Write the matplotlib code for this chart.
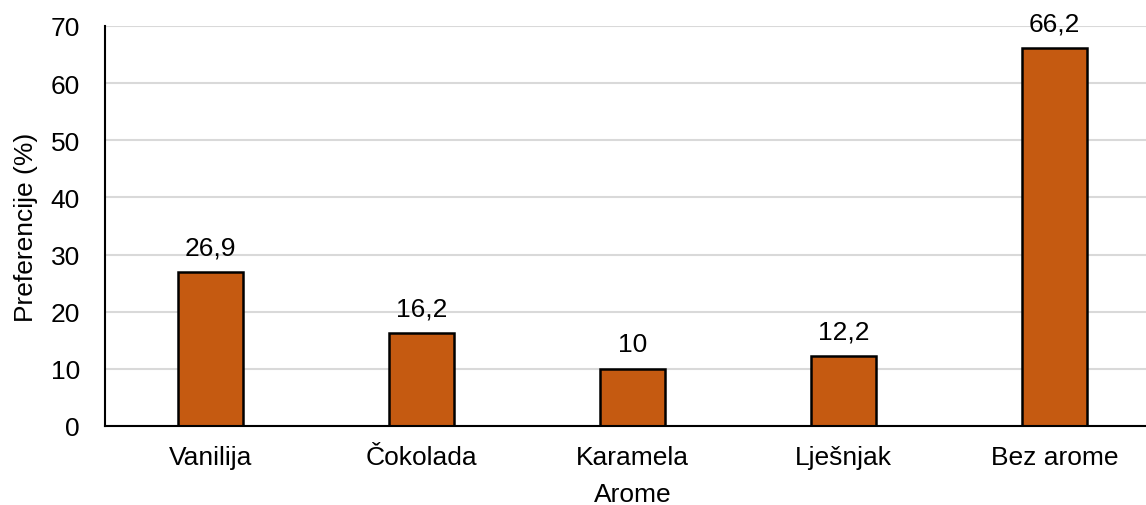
import matplotlib.pyplot as plt

plt.rcParams["font.family"] = ["Liberation Sans", "DejaVu Sans"]
plt.rcParams.update({"font.size": 19})

arome = ["Vanilija", "Čokolada", "Karamela", "Lješnjak", "Bez arome"]
preferencije = [26.9, 16.2, 10, 12.2, 66.2]
oznake = ["26,9", "16,2", "10", "12,2", "66,2"]

fig = plt.figure(figsize=(11.46, 5.06), dpi=100)
ax = fig.add_axes([105 / 1146, 79 / 506, 1055 / 1146, 400 / 506])

x = range(len(arome))
bars = ax.bar(x, preferencije, width=0.31, color="#C55A11",
              edgecolor="black", lw=1.8, zorder=3)
for b, t in zip(bars, oznake):
    ax.annotate(t, (b.get_x() + b.get_width() / 2, b.get_height()),
                xytext=(0, 9), textcoords="offset points",
                ha="center", va="bottom")

ax.set_xlim(-0.5, 4.5)
ax.set_ylim(0, 70)
ax.set_yticks(range(0, 71, 10))
ax.set_xticks(list(x))
ax.set_xticklabels(arome)
ax.tick_params(length=0)
ax.tick_params(axis="y", pad=18)
ax.tick_params(axis="x", pad=14)
ax.grid(axis="y", color="#D9D9D9", lw=1.5, zorder=0)
for s in ["top", "right"]:
    ax.spines[s].set_visible(False)
for s in ["left", "bottom"]:
    ax.spines[s].set_linewidth(1.5)
    ax.spines[s].set_zorder(4)

ax.set_xlabel("Arome", labelpad=9)
ax.set_ylabel("Preferencije (%)", labelpad=9)

fig.savefig("out.png", dpi=100, facecolor="w")
